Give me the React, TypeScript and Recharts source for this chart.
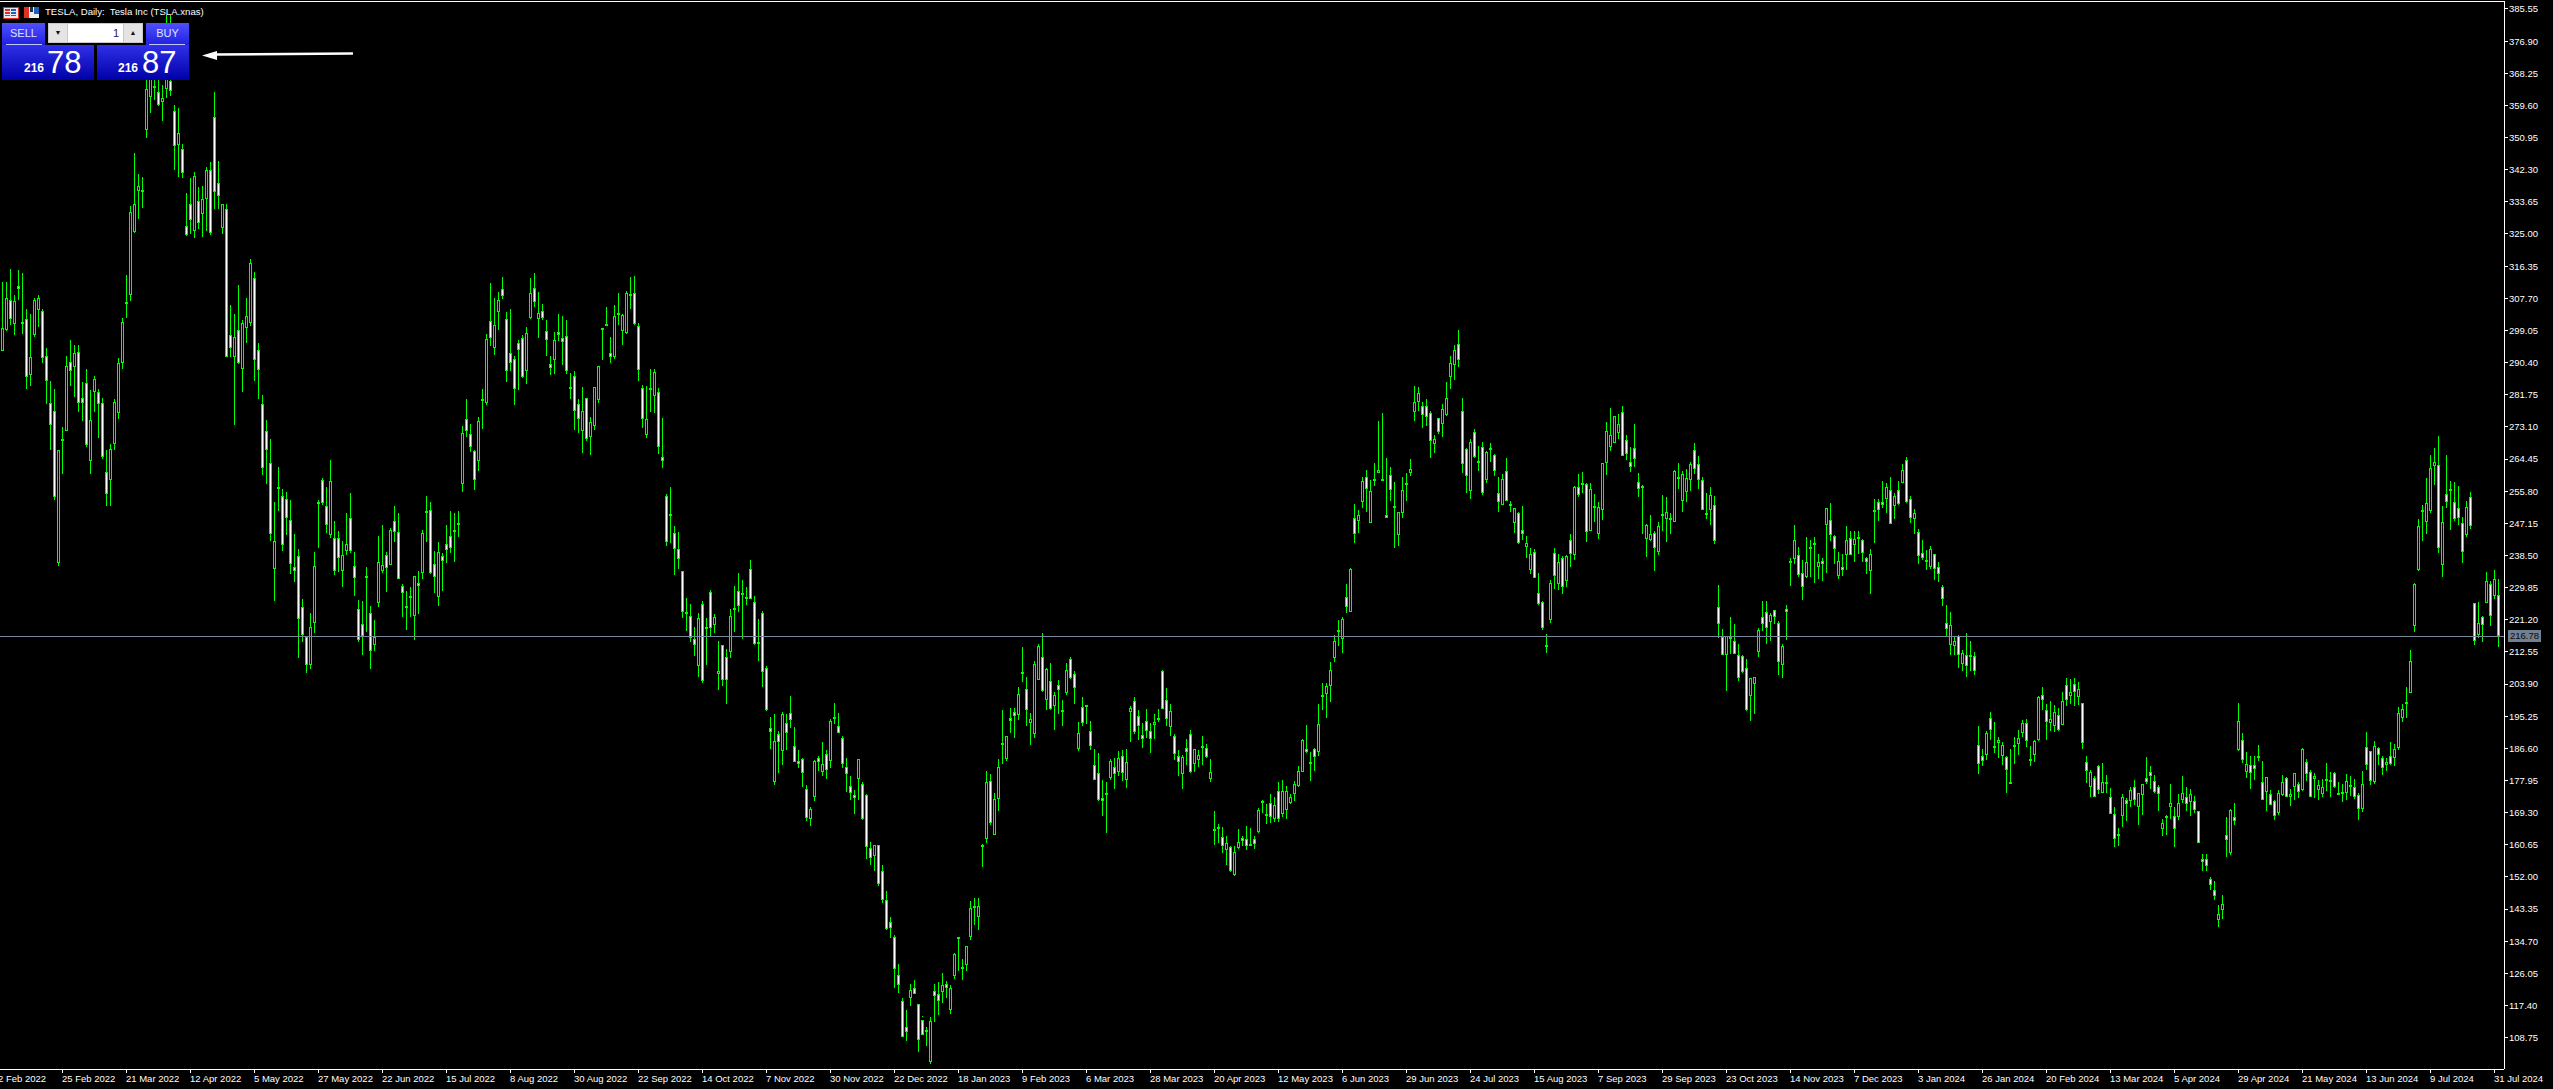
import React from 'react';
import { BarChart, Bar, XAxis, YAxis, ReferenceLine } from 'recharts';

// TESLA daily bars, ten per line
const highs = [
  312.0, 312.0, 315.5, 308.6, 315.2, 314.5, 304.9, 303.5, 307.8, 308.6,
  304.8, 294.2, 285.4, 283.3, 267.0, 273.1, 292.1, 296.4, 295.2, 295.2,
  285.2, 288.6, 283.1, 286.7, 283.3, 280.8, 266.8, 268.6, 280.6, 291.6,
  302.4, 313.9, 332.5, 346.7, 341.1, 340.4, 372.0, 372.0, 374.0, 368.0,
  365.1, 383.9, 383.9, 359.7, 358.9, 349.3, 336.0, 340.0, 341.8, 337.6,
  337.9, 342.9, 344.5, 363.1, 344.7, 333.0, 333.1, 305.9, 303.5, 311.2,
  301.9, 307.8, 318.2, 314.8, 295.6, 281.7, 275.0, 269.8, 253.0, 262.2,
  256.4, 255.6, 253.5, 244.4, 240.2, 226.7, 216.6, 223.0, 239.4, 253.3,
  259.3, 257.0, 264.1, 247.9, 245.0, 242.3, 250.0, 255.3, 239.4, 226.6,
  226.2, 235.4, 225.0, 221.0, 243.6, 246.8, 239.3, 246.0, 251.9, 250.0,
  230.9, 229.0, 230.1, 233.0, 234.3, 245.3, 254.6, 252.8, 239.7, 242.0,
  239.1, 246.6, 250.5, 250.0, 250.5, 273.2, 280.6, 273.9, 266.8, 275.8,
  283.3, 298.2, 311.8, 307.8, 309.4, 313.5, 304.0, 304.9, 292.3, 296.6,
  297.7, 300.1, 313.1, 314.5, 309.4, 306.2, 301.9, 292.3, 298.7, 303.5,
  302.8, 301.9, 287.5, 288.1, 280.6, 283.8, 280.8, 275.8, 283.8, 289.5,
  299.7, 305.4, 297.3, 305.8, 309.0, 303.5, 309.7, 313.3, 313.6, 301.1,
  284.3, 284.1, 288.6, 288.8, 283.5, 275.6, 254.9, 256.8, 246.5, 244.7,
  234.4, 227.1, 225.4, 219.3, 223.1, 226.3, 221.7, 229.2, 222.8, 215.4,
  214.4, 213.4, 224.2, 230.3, 233.7, 232.0, 229.9, 237.2, 227.5, 221.4,
  223.5, 208.8, 195.1, 195.8, 191.2, 196.5, 195.8, 200.7, 192.3, 186.2,
  184.1, 176.7, 170.8, 183.4, 184.4, 188.4, 186.2, 194.5, 198.9, 196.1,
  189.8, 184.1, 179.2, 175.4, 182.4, 177.4, 174.3, 161.5, 160.5, 160.6,
  155.3, 148.2, 141.2, 136.3, 128.5, 119.4, 116.2, 123.2, 124.2, 117.7,
  114.5, 111.7, 114.2, 123.2, 123.6, 126.0, 123.9, 122.9, 131.6, 135.8,
  129.9, 133.5, 145.4, 146.4, 146.4, 160.9, 180.6, 179.6, 174.6, 183.8,
  196.8, 190.0, 197.5, 197.5, 203.0, 213.9, 205.9, 196.1, 210.1, 214.8,
  217.6, 208.3, 209.5, 201.7, 205.0, 199.6, 209.5, 211.2, 207.4, 193.7,
  200.3, 198.2, 194.0, 186.5, 185.3, 178.1, 177.4, 183.8, 184.1, 185.8,
  186.2, 186.5, 197.9, 200.3, 196.8, 193.3, 197.2, 193.3, 195.7, 197.2,
  207.6, 202.7, 198.6, 190.5, 186.2, 184.8, 189.1, 191.6, 186.2, 186.2,
  189.8, 187.7, 183.7, 169.6, 166.1, 165.4, 163.0, 160.2, 160.2, 164.8,
  163.0, 165.6, 165.1, 163.0, 170.5, 172.7, 171.5, 174.3, 173.6, 177.4,
  178.0, 176.5, 174.3, 177.8, 181.9, 189.1, 192.8, 185.5, 186.6, 198.5,
  204.3, 204.3, 209.9, 217.0, 221.2, 222.0, 230.8, 235.1, 252.3, 250.7,
  259.5, 261.5, 258.8, 263.3, 274.7, 276.8, 264.7, 262.3, 258.2, 250.3,
  259.7, 260.8, 264.4, 284.1, 283.9, 279.7, 280.6, 277.4, 270.9, 275.6,
  279.2, 285.2, 292.2, 295.1, 299.2, 280.8, 267.4, 269.8, 272.5, 268.0,
  269.1, 266.6, 268.7, 265.8, 259.5, 260.4, 264.7, 253.2, 250.8, 250.2,
  251.8, 243.8, 240.5, 240.2, 233.7, 226.3, 217.3, 231.9, 240.4, 238.8,
  238.4, 238.6, 244.2, 257.2, 260.4, 260.9, 258.1, 258.0, 255.0, 252.9,
  256.3, 274.5, 278.1, 274.6, 276.5, 278.7, 270.9, 267.8, 273.8, 260.6,
  257.4, 246.9, 249.4, 245.1, 247.4, 254.7, 254.3, 249.9, 261.4, 263.3,
  261.3, 261.7, 263.7, 268.7, 265.3, 259.5, 255.4, 257.0, 254.5, 230.5,
  218.7, 213.0, 222.0, 220.0, 214.6, 211.8, 210.6, 202.8, 205.8, 219.1,
  226.3, 226.3, 223.0, 223.8, 220.9, 214.6, 225.2, 237.9, 246.7, 240.8,
  237.2, 243.5, 242.6, 243.5, 238.8, 237.9, 246.7, 252.7, 243.9, 239.3,
  239.0, 246.5, 245.1, 245.1, 245.1, 242.9, 238.1, 240.2, 253.6, 253.8,
  258.6, 258.1, 259.5, 255.2, 258.6, 263.2, 265.0, 254.5, 250.9, 245.6,
  242.6, 239.9, 241.0, 238.8, 236.6, 230.6, 225.2, 223.3, 216.9, 217.1,
  213.0, 217.7, 215.5, 212.6, 192.7, 186.5, 191.3, 196.4, 193.6, 189.7,
  188.2, 184.6, 186.4, 189.7, 191.6, 194.1, 194.5, 187.3, 188.9, 200.6,
  203.2, 198.5, 199.4, 198.2, 197.4, 201.8, 205.5, 205.2, 205.5, 204.5,
  198.9, 184.5, 180.7, 179.2, 182.2, 182.6, 179.5, 175.9, 170.9, 165.2,
  174.4, 173.2, 176.2, 178.0, 171.1, 175.2, 184.3, 181.9, 179.5, 176.8,
  167.5, 168.6, 176.9, 170.9, 174.3, 179.2, 176.2, 175.6, 173.8, 169.8,
  158.1, 158.1, 152.0, 150.9, 144.5, 147.1, 168.0, 170.4, 171.8, 198.8,
  190.7, 185.7, 184.6, 184.6, 187.6, 183.2, 175.9, 175.4, 172.7, 175.4,
  179.5, 178.9, 175.6, 179.5, 177.6, 186.6, 183.7, 180.7, 180.0, 178.0,
  178.3, 182.7, 180.3, 180.3, 177.4, 176.9, 179.6, 179.2, 178.3, 174.5,
  180.5, 191.0, 185.5, 188.6, 187.0, 184.6, 183.9, 188.3, 187.7, 197.8,
  198.5, 203.2, 213.1, 231.0, 248.4, 252.1, 259.4, 265.6, 267.4, 270.7,
  251.9, 265.6, 258.6, 258.3, 257.1, 248.9, 253.2, 255.6, 225.7, 226.0,
  222.1, 234.1, 231.7, 234.6, 232.1,
];

const lows = [
  293.3, 298.7, 300.3, 297.9, 307.0, 298.2, 283.3, 284.0, 297.3, 300.1,
  290.2, 279.0, 266.8, 253.3, 235.9, 260.5, 271.8, 284.1, 281.2, 277.1,
  274.8, 267.6, 260.5, 277.1, 270.0, 264.3, 251.6, 251.9, 267.0, 275.1,
  288.8, 302.2, 306.9, 325.3, 329.0, 332.0, 350.7, 357.6, 361.1, 359.5,
  355.4, 361.6, 362.1, 342.3, 340.2, 340.2, 324.5, 324.8, 324.0, 326.4,
  324.3, 325.8, 324.8, 331.7, 331.7, 324.8, 291.8, 291.8, 273.7, 289.9,
  282.5, 295.8, 300.3, 285.6, 280.6, 260.3, 257.8, 242.3, 226.4, 250.3,
  239.6, 243.9, 233.5, 231.4, 211.0, 215.2, 206.9, 208.0, 217.6, 240.4,
  251.9, 244.5, 243.1, 233.3, 234.1, 229.9, 238.6, 239.1, 227.6, 215.2,
  211.8, 217.8, 208.1, 212.7, 224.6, 234.0, 228.5, 236.4, 242.3, 232.2,
  222.1, 218.6, 222.1, 215.9, 222.7, 232.2, 242.1, 233.3, 228.3, 224.8,
  229.0, 236.4, 239.3, 236.8, 243.4, 255.4, 270.5, 266.3, 256.0, 261.4,
  272.6, 279.2, 294.8, 292.4, 299.2, 307.7, 285.2, 288.1, 279.0, 283.1,
  286.0, 284.7, 302.2, 305.4, 297.1, 301.9, 292.3, 287.2, 287.5, 296.1,
  289.7, 287.5, 280.4, 272.3, 271.5, 266.0, 269.2, 265.7, 272.1, 279.6,
  291.1, 300.5, 290.2, 291.3, 300.5, 295.2, 298.1, 304.6, 300.5, 285.6,
  272.8, 270.0, 277.0, 277.0, 265.8, 262.1, 240.8, 241.7, 233.2, 234.8,
  221.8, 218.2, 215.1, 211.4, 205.9, 204.1, 209.0, 216.9, 217.6, 202.2,
  203.5, 198.5, 210.9, 217.9, 223.2, 216.2, 225.0, 227.1, 214.4, 210.2,
  203.0, 196.8, 186.5, 176.8, 179.9, 182.3, 186.2, 192.2, 185.5, 181.3,
  176.4, 167.1, 165.8, 172.3, 180.3, 179.2, 178.3, 181.2, 193.3, 190.8,
  181.3, 175.0, 172.8, 169.0, 172.8, 167.2, 156.7, 155.3, 153.5, 149.6,
  145.2, 137.7, 135.6, 122.0, 120.8, 118.4, 107.9, 117.3, 120.7, 104.8,
  118.3, 106.7, 101.5, 112.9, 114.8, 118.0, 119.3, 115.1, 124.6, 126.7,
  124.2, 126.7, 134.9, 139.1, 137.7, 154.6, 161.2, 165.8, 163.3, 169.8,
  182.4, 183.3, 190.8, 189.5, 194.0, 204.5, 192.6, 187.4, 189.4, 205.9,
  201.7, 197.1, 196.8, 191.6, 195.9, 192.6, 201.0, 205.2, 198.5, 185.8,
  192.5, 193.2, 186.2, 179.9, 172.3, 168.3, 163.7, 178.2, 175.7, 179.2,
  177.8, 176.0, 188.1, 190.4, 188.8, 186.7, 189.5, 185.1, 189.0, 193.7,
  197.1, 192.6, 190.1, 183.4, 179.2, 175.7, 182.0, 179.9, 180.2, 181.7,
  182.0, 183.8, 177.4, 160.5, 160.9, 158.4, 155.3, 153.2, 152.0, 159.5,
  160.2, 159.1, 160.2, 159.5, 163.7, 169.3, 166.1, 166.5, 166.9, 166.6,
  168.0, 167.5, 171.5, 172.5, 176.3, 180.4, 185.2, 177.8, 180.3, 184.6,
  197.1, 194.9, 199.1, 209.8, 214.2, 212.4, 222.9, 223.3, 241.7, 244.4,
  251.2, 250.1, 247.3, 257.1, 260.6, 258.8, 248.9, 253.2, 240.4, 241.1,
  248.7, 253.2, 259.8, 274.7, 277.4, 272.6, 273.4, 264.8, 266.1, 271.3,
  270.4, 276.1, 283.4, 285.8, 289.3, 260.7, 255.4, 253.7, 264.7, 261.3,
  254.8, 257.9, 263.5, 259.9, 250.2, 252.1, 253.0, 250.3, 244.6, 241.6,
  242.6, 238.0, 233.5, 232.3, 225.1, 218.5, 212.1, 220.2, 229.5, 229.1,
  228.1, 230.0, 235.3, 237.2, 254.1, 255.2, 242.3, 245.5, 247.4, 243.0,
  248.0, 260.2, 266.6, 268.8, 269.8, 273.6, 264.3, 261.1, 262.2, 254.1,
  244.2, 237.9, 242.3, 234.4, 238.4, 245.1, 242.3, 244.2, 247.4, 256.3,
  250.3, 252.7, 255.9, 260.4, 256.4, 250.5, 248.3, 246.9, 241.7, 216.2,
  212.7, 202.1, 212.1, 211.8, 204.7, 206.9, 196.5, 194.0, 195.8, 211.3,
  218.2, 214.6, 215.5, 220.0, 206.4, 205.4, 215.9, 230.3, 236.3, 232.6,
  226.4, 232.6, 232.6, 231.2, 232.1, 231.7, 233.9, 242.6, 236.1, 231.9,
  233.0, 234.6, 238.7, 236.8, 239.0, 236.6, 233.5, 228.1, 241.7, 247.8,
  251.4, 250.1, 246.8, 248.3, 252.1, 258.1, 252.6, 247.2, 244.2, 236.2,
  237.2, 234.6, 234.8, 231.7, 231.2, 225.0, 216.9, 211.8, 211.8, 208.3,
  207.3, 205.8, 207.5, 206.4, 179.8, 181.9, 183.4, 188.8, 185.3, 184.1,
  181.9, 174.7, 177.0, 182.3, 185.0, 189.5, 187.0, 181.9, 183.0, 188.6,
  197.0, 188.8, 191.3, 191.0, 191.3, 192.9, 198.0, 198.5, 198.0, 198.3,
  186.4, 177.2, 173.4, 173.5, 174.4, 174.7, 174.7, 168.9, 160.1, 160.4,
  165.5, 167.1, 170.7, 171.4, 166.0, 168.8, 177.0, 175.6, 174.7, 169.8,
  163.0, 163.1, 167.5, 160.2, 167.4, 171.9, 169.8, 168.3, 169.3, 161.2,
  153.4, 153.4, 148.5, 145.8, 138.6, 140.7, 157.2, 158.1, 166.0, 185.9,
  182.5, 178.7, 175.8, 178.1, 183.3, 177.1, 169.8, 171.3, 167.4, 168.8,
  173.9, 173.4, 171.1, 172.9, 173.4, 175.0, 177.8, 173.4, 173.2, 172.6,
  173.4, 175.2, 173.5, 175.9, 173.9, 172.0, 172.5, 173.8, 172.8, 167.1,
  169.6, 180.8, 176.5, 176.9, 182.2, 179.5, 180.3, 182.2, 181.7, 186.3,
  193.7, 194.9, 201.4, 217.7, 234.5, 242.3, 244.2, 250.0, 257.5, 239.3,
  232.8, 251.4, 245.4, 247.8, 246.7, 236.6, 243.5, 245.6, 214.5, 216.4,
  215.1, 225.7, 219.6, 226.7, 213.9,
];

const opens = [
  293.6, 299.1, 307.2, 300.9, 311.1, 301.4, 302.1, 287.1, 297.9, 304.5,
  304.4, 292.3, 279.5, 277.3, 236.5, 269.8, 272.1, 290.5, 289.1, 293.2,
  281.0, 284.9, 264.0, 282.4, 282.4, 279.5, 261.0, 258.7, 268.4, 276.9,
  290.3, 306.7, 308.7, 325.6, 336.7, 336.4, 352.9, 362.0, 364.8, 363.3,
  360.5, 364.0, 366.2, 358.1, 349.0, 347.9, 327.1, 333.0, 325.8, 333.8,
  330.3, 334.4, 342.3, 356.4, 338.6, 326.5, 331.7, 297.7, 292.0, 299.2,
  288.6, 299.7, 301.1, 313.1, 293.9, 279.2, 271.9, 263.3, 234.8, 257.0,
  254.5, 253.7, 248.0, 235.3, 238.4, 224.7, 216.6, 209.1, 220.2, 252.9,
  258.7, 251.8, 244.0, 243.2, 243.2, 234.3, 239.6, 248.5, 235.7, 224.2,
  220.1, 233.0, 223.0, 214.5, 225.6, 234.4, 238.6, 236.0, 247.9, 244.7,
  230.2, 225.0, 227.7, 222.3, 231.0, 233.7, 250.4, 250.6, 236.3, 227.2,
  238.4, 241.6, 243.6, 245.3, 247.3, 257.7, 275.1, 271.2, 266.6, 263.8,
  280.6, 279.5, 301.5, 294.2, 304.0, 310.1, 302.1, 293.1, 291.4, 295.6,
  296.9, 288.0, 302.4, 310.6, 302.1, 304.2, 299.0, 290.1, 291.0, 298.7,
  296.9, 297.5, 283.7, 286.9, 279.2, 272.0, 280.8, 270.5, 273.2, 280.4,
  299.7, 300.7, 293.1, 292.0, 303.7, 299.0, 298.3, 308.3, 309.0, 300.2,
  283.5, 271.0, 283.5, 281.4, 282.6, 264.9, 254.4, 249.6, 244.6, 240.1,
  234.2, 223.3, 222.1, 215.9, 208.8, 225.3, 219.2, 228.7, 219.9, 206.6,
  214.4, 211.3, 212.5, 224.4, 228.9, 228.3, 227.3, 234.8, 225.9, 215.1,
  222.9, 208.3, 192.1, 177.4, 190.4, 185.8, 193.5, 196.0, 187.1, 183.1,
  183.8, 175.6, 167.7, 173.4, 184.0, 180.3, 185.0, 183.1, 194.9, 192.6,
  189.3, 181.7, 176.5, 174.1, 178.4, 177.1, 174.1, 159.9, 157.6, 160.6,
  153.5, 145.9, 139.8, 135.8, 125.6, 118.6, 111.6, 119.5, 122.0, 117.7,
  113.4, 110.8, 102.2, 121.3, 120.5, 121.0, 123.3, 116.1, 125.3, 135.8,
  127.2, 128.2, 135.7, 144.2, 141.2, 160.1, 162.2, 177.8, 163.4, 172.9,
  188.1, 183.7, 194.7, 196.3, 195.5, 207.0, 202.6, 193.4, 190.5, 204.9,
  211.3, 199.6, 204.7, 198.0, 203.6, 196.8, 201.4, 210.5, 206.7, 186.5,
  197.8, 198.2, 191.3, 182.0, 180.0, 173.2, 174.1, 178.5, 181.7, 180.3,
  184.5, 178.1, 196.5, 199.3, 195.2, 190.3, 194.0, 191.2, 192.9, 194.8,
  207.3, 199.6, 192.4, 189.9, 184.5, 179.8, 186.7, 190.5, 182.3, 183.4,
  187.1, 186.6, 178.4, 165.0, 165.4, 162.6, 159.1, 160.0, 152.6, 159.9,
  162.4, 162.2, 160.8, 162.3, 164.0, 172.5, 169.0, 171.8, 167.7, 175.1,
  169.0, 170.0, 172.0, 174.3, 176.5, 180.1, 186.3, 182.4, 186.3, 185.7,
  200.9, 201.2, 203.4, 210.8, 218.4, 216.1, 227.3, 223.4, 248.5, 247.9,
  252.8, 259.7, 247.1, 259.2, 260.8, 258.8, 249.5, 260.1, 251.8, 243.9,
  249.8, 258.0, 260.6, 277.1, 279.7, 278.6, 278.8, 276.8, 268.4, 275.4,
  274.0, 276.4, 286.4, 289.7, 295.4, 277.3, 267.1, 255.9, 271.7, 263.8,
  267.6, 258.7, 267.1, 265.5, 255.2, 252.2, 261.2, 252.3, 247.3, 249.9,
  245.4, 240.9, 234.7, 239.5, 228.5, 226.0, 214.4, 221.0, 239.1, 230.9,
  237.9, 231.5, 242.6, 238.6, 257.0, 258.0, 257.7, 245.1, 251.8, 244.4,
  250.7, 263.3, 267.7, 268.7, 271.4, 277.0, 269.5, 263.7, 267.4, 258.2,
  257.1, 242.8, 242.6, 244.5, 239.4, 249.7, 248.2, 248.7, 247.6, 259.7,
  253.1, 255.5, 258.8, 267.0, 263.2, 258.9, 249.8, 250.6, 252.0, 224.6,
  216.6, 211.7, 216.1, 215.4, 211.6, 211.4, 208.1, 200.6, 203.8, 212.4,
  221.9, 223.2, 220.6, 223.8, 220.2, 209.0, 224.0, 236.9, 237.6, 238.7,
  233.9, 232.8, 240.6, 241.9, 235.3, 236.9, 246.7, 248.0, 243.7, 233.1,
  235.3, 238.7, 243.1, 241.2, 243.4, 242.6, 237.8, 234.3, 250.8, 253.0,
  253.0, 253.6, 256.0, 251.8, 256.0, 258.1, 264.2, 253.8, 248.2, 244.7,
  239.1, 237.2, 235.3, 238.8, 235.3, 229.9, 220.3, 214.4, 214.2, 216.7,
  209.2, 211.7, 211.7, 211.4, 187.5, 184.5, 184.7, 194.7, 187.1, 187.9,
  184.6, 184.3, 177.6, 187.4, 187.8, 190.8, 193.4, 183.7, 184.9, 188.9,
  201.0, 196.9, 193.3, 192.6, 195.5, 193.0, 203.6, 200.8, 203.8, 200.3,
  198.8, 182.9, 176.3, 178.5, 181.9, 174.7, 177.6, 173.6, 168.8, 163.5,
  168.5, 172.6, 172.5, 176.3, 170.9, 174.1, 178.5, 180.2, 177.7, 176.1,
  164.8, 168.3, 170.9, 168.5, 168.0, 172.6, 173.4, 172.1, 172.3, 169.7,
  156.9, 156.7, 151.4, 148.6, 140.3, 143.0, 163.4, 158.5, 168.0, 186.1,
  188.8, 180.1, 182.0, 182.0, 184.3, 177.6, 174.8, 174.2, 172.4, 169.3,
  174.1, 178.5, 173.4, 176.3, 177.0, 175.3, 182.9, 180.3, 178.4, 175.3,
  174.2, 178.4, 178.0, 180.0, 174.5, 174.8, 174.7, 176.6, 176.1, 173.9,
  170.3, 186.9, 185.8, 177.5, 186.6, 184.1, 182.1, 184.6, 184.0, 186.8,
  194.7, 199.0, 201.6, 219.4, 234.6, 250.8, 247.4, 250.5, 262.7, 262.8,
  236.0, 254.9, 256.3, 253.0, 251.4, 247.2, 244.1, 254.2, 225.7, 217.2,
  221.8, 225.8, 230.8, 227.5, 227.8,
];

const closes = [
  299.6, 307.7, 302.2, 307.0, 310.1, 301.2, 286.4, 291.8, 307.2, 307.7,
  291.7, 285.4, 273.6, 254.3, 266.8, 269.5, 289.5, 288.0, 293.1, 279.5,
  279.5, 268.1, 275.0, 286.0, 279.2, 264.9, 255.0, 267.1, 279.8, 290.2,
  301.3, 306.1, 330.8, 333.0, 337.9, 336.8, 363.9, 368.0, 364.4, 359.7,
  361.6, 368.0, 363.5, 348.7, 352.1, 341.3, 324.8, 328.7, 340.7, 328.0,
  334.4, 342.3, 325.3, 336.2, 335.1, 333.0, 291.8, 294.3, 297.2, 290.2,
  301.0, 303.0, 317.3, 291.1, 288.3, 262.1, 266.8, 244.2, 242.4, 256.3,
  241.2, 248.7, 236.1, 234.3, 221.4, 217.1, 209.0, 219.2, 235.6, 252.9,
  252.5, 246.6, 258.5, 234.2, 237.7, 238.6, 241.5, 239.7, 232.5, 215.7,
  216.7, 233.0, 212.8, 216.5, 236.6, 235.8, 235.1, 245.3, 244.7, 232.2,
  228.4, 224.4, 227.0, 232.9, 230.4, 244.5, 250.4, 233.9, 232.8, 239.3,
  236.9, 239.9, 240.5, 245.1, 247.0, 271.4, 272.1, 267.8, 258.8, 274.7,
  280.4, 296.7, 296.9, 300.4, 307.2, 308.2, 288.0, 290.4, 283.2, 293.8,
  286.4, 298.3, 309.0, 306.6, 303.7, 302.4, 296.6, 289.0, 296.4, 297.9,
  295.9, 288.0, 283.6, 277.5, 275.2, 277.3, 269.7, 274.3, 283.8, 289.4,
  299.7, 300.7, 291.8, 302.9, 303.7, 303.2, 309.1, 308.9, 300.7, 288.4,
  275.2, 275.3, 283.0, 287.8, 267.6, 263.9, 242.1, 249.3, 240.1, 237.6,
  223.2, 222.7, 216.2, 214.5, 221.6, 204.7, 218.7, 219.0, 222.0, 207.5,
  204.9, 204.9, 222.1, 224.4, 225.0, 228.2, 227.2, 226.8, 214.7, 215.0,
  207.2, 196.9, 191.1, 188.6, 188.3, 195.8, 190.6, 194.1, 183.0, 182.4,
  179.9, 167.8, 170.2, 183.3, 183.0, 182.3, 180.7, 194.0, 194.8, 190.6,
  182.3, 179.6, 174.6, 173.3, 183.8, 167.5, 160.1, 157.0, 160.7, 150.1,
  145.9, 138.0, 138.3, 127.2, 122.9, 108.8, 110.2, 121.5, 120.6, 108.0,
  109.4, 110.5, 113.2, 120.0, 118.5, 122.9, 122.1, 122.2, 131.2, 135.8,
  127.7, 133.3, 143.6, 143.5, 144.2, 160.6, 177.6, 166.4, 172.9, 181.5,
  187.9, 189.9, 194.0, 195.2, 201.1, 207.2, 196.8, 194.4, 209.4, 214.0,
  202.0, 207.9, 197.1, 200.9, 202.2, 196.5, 207.8, 205.6, 202.7, 190.6,
  193.3, 198.2, 187.3, 178.1, 172.6, 172.5, 174.5, 183.1, 179.7, 184.1,
  179.9, 182.9, 197.5, 190.9, 192.5, 189.0, 191.3, 189.2, 193.7, 194.7,
  197.3, 194.5, 196.6, 185.1, 183.0, 184.3, 185.7, 180.2, 186.3, 184.9,
  186.8, 184.2, 180.2, 164.8, 165.4, 160.3, 161.2, 153.7, 158.7, 161.3,
  161.6, 160.2, 160.3, 160.9, 169.9, 171.8, 168.6, 168.0, 171.3, 167.7,
  175.0, 175.0, 173.6, 176.9, 180.5, 188.8, 185.5, 182.9, 184.2, 193.1,
  200.7, 203.3, 207.6, 215.5, 218.4, 221.3, 224.5, 234.9, 244.3, 249.5,
  258.5, 256.5, 255.8, 259.1, 261.6, 259.0, 248.7, 256.0, 251.3, 250.1,
  256.0, 257.4, 261.7, 279.7, 282.2, 276.2, 275.8, 269.4, 269.8, 271.6,
  278.0, 280.8, 290.2, 293.7, 291.1, 263.0, 259.8, 269.0, 265.0, 263.5,
  255.3, 266.3, 267.4, 261.1, 253.0, 259.0, 253.2, 251.9, 251.4, 241.8,
  244.4, 241.9, 238.8, 232.5, 225.4, 219.1, 214.4, 231.0, 233.0, 236.7,
  229.9, 238.3, 238.8, 256.9, 254.7, 258.0, 244.7, 256.3, 251.8, 251.5,
  263.3, 271.9, 270.9, 276.0, 274.0, 265.3, 265.7, 262.4, 264.4, 256.4,
  257.1, 246.7, 244.2, 240.5, 246.3, 249.7, 250.2, 248.4, 261.2, 259.6,
  260.3, 259.3, 263.2, 261.8, 258.8, 250.8, 249.8, 254.7, 242.3, 220.0,
  211.6, 216.9, 216.5, 212.0, 205.5, 207.0, 196.8, 205.4, 205.8, 218.5,
  220.1, 219.1, 222.4, 221.8, 209.7, 214.2, 223.4, 236.9, 242.6, 233.2,
  229.9, 236.6, 240.9, 241.9, 236.6, 236.1, 251.4, 243.9, 240.2, 237.1,
  234.5, 242.6, 238.6, 243.0, 243.3, 239.1, 236.7, 238.8, 250.7, 250.7,
  252.0, 257.0, 247.0, 254.5, 252.3, 261.4, 252.8, 248.5, 249.9, 238.3,
  237.7, 237.2, 240.2, 234.8, 233.6, 226.9, 218.7, 219.7, 215.4, 211.6,
  212.2, 208.7, 211.6, 207.3, 182.5, 183.1, 190.7, 191.4, 186.7, 188.9,
  187.6, 180.7, 177.6, 187.3, 189.3, 193.3, 188.5, 183.6, 188.6, 200.4,
  199.7, 193.7, 194.5, 196.5, 191.6, 199.2, 199.5, 201.8, 201.8, 202.5,
  187.9, 180.4, 180.2, 173.6, 175.3, 177.5, 177.1, 169.0, 162.3, 163.4,
  173.6, 171.5, 175.3, 172.6, 174.7, 176.9, 177.5, 179.2, 174.9, 174.4,
  166.5, 168.3, 171.8, 164.8, 172.0, 174.6, 171.6, 174.4, 170.0, 161.2,
  155.9, 154.9, 149.8, 146.8, 141.9, 144.6, 162.0, 170.0, 167.0, 193.9,
  183.4, 182.3, 179.9, 180.9, 184.4, 172.6, 178.8, 171.4, 168.3, 174.5,
  177.5, 173.6, 174.4, 180.0, 174.9, 186.4, 179.8, 173.5, 179.2, 176.7,
  176.3, 178.2, 178.0, 176.1, 174.5, 174.4, 177.7, 176.6, 173.6, 170.4,
  176.9, 182.1, 177.7, 187.2, 184.7, 181.3, 182.9, 182.4, 186.5, 196.2,
  197.1, 199.0, 210.0, 230.8, 246.4, 250.7, 252.6, 262.0, 263.7, 240.6,
  247.4, 252.9, 256.0, 248.2, 248.5, 239.3, 251.5, 246.3, 215.6, 220.3,
  219.7, 231.6, 222.1, 232.1, 216.78,
];

const dateLabels = [
  '2 Feb 2022', '25 Feb 2022', '21 Mar 2022', '12 Apr 2022', '5 May 2022', '27 May 2022', '22 Jun 2022', '15 Jul 2022',
  '8 Aug 2022', '30 Aug 2022', '22 Sep 2022', '14 Oct 2022', '7 Nov 2022', '30 Nov 2022', '22 Dec 2022', '18 Jan 2023',
  '9 Feb 2023', '6 Mar 2023', '28 Mar 2023', '20 Apr 2023', '12 May 2023', '6 Jun 2023', '29 Jun 2023', '24 Jul 2023',
  '15 Aug 2023', '7 Sep 2023', '29 Sep 2023', '23 Oct 2023', '14 Nov 2023', '7 Dec 2023', '3 Jan 2024', '26 Jan 2024',
  '20 Feb 2024', '13 Mar 2024', '5 Apr 2024', '29 Apr 2024', '21 May 2024', '13 Jun 2024', '9 Jul 2024', '31 Jul 2024',
];

const priceTicks = [
  385.55, 376.9, 368.25, 359.6, 350.95, 342.3, 333.65, 325.0, 316.35, 307.7, 299.05, 290.4, 281.75, 273.1, 264.45, 255.8, 247.15,
  238.5, 229.85, 221.2, 212.55, 203.9, 195.25, 186.6, 177.95, 169.3, 160.65, 152.0, 143.35, 134.7, 126.05, 117.4, 108.75,
];

const lastPrice = 216.78;
const priceTop = 387.7;
const priceBottom = 100.3;
const FONT = '"Liberation Sans", Arial, sans-serif';
const GREEN = '#00ff00';

// one empty slot in front (the cut off first date label) and one behind
const rows: any[] = [{ idx: 0, range: null }];
highs.forEach((h, i) => {
  rows.push({ idx: i + 1, range: [lows[i], h], open: opens[i], close: closes[i] });
});
rows.push({ idx: rows.length, range: null });

const dateTicks = dateLabels.map((_, i) => i * 16);

const Candle = (props: any) => {
  const { x, y, width, height, payload } = props;
  if (!payload || !payload.range) return null;
  const [low, high] = payload.range;
  const cx = Math.floor(x + width / 2);
  const pxPerPrice = height / (high - low);
  const top = Math.round(y + (high - Math.max(payload.open, payload.close)) * pxPerPrice);
  const bottom = Math.round(y + (high - Math.min(payload.open, payload.close)) * pxPerPrice);
  const bodyH = Math.max(bottom - top, 2);
  const innerH = bodyH - 2;
  const down = payload.close < payload.open;
  return (
    <g shapeRendering="crispEdges">
      <rect x={cx} y={Math.round(y)} width={1} height={Math.max(Math.round(height), 1)} fill={GREEN} />
      <rect x={cx - 1} y={top} width={3} height={bodyH} fill={GREEN} />
      {innerH > 0 && <rect x={cx} y={top + 1} width={1} height={innerH} fill={down ? '#ffffff' : '#000000'} />}
    </g>
  );
};

const DateTick = (props: any) => {
  const { x, payload } = props;
  return (
    <text x={x} y={1082} fill="#ffffff" fontSize={9.5} fontFamily={FONT} textAnchor="start">
      {dateLabels[payload.value / 16]}
    </text>
  );
};

const blueTop = 'linear-gradient(#5050ff, #2020e0)';
const blueBottom = 'linear-gradient(#3030e8, #0000a8)';

const abs = (left: number, top: number, width: number, height: number, extra: any = {}) => ({
  position: 'absolute' as const, left, top, width, height, ...extra,
});

const TradePanel = () => (
  <div style={{ fontFamily: FONT, color: '#fff' }}>
    <svg style={abs(0, 0, 400, 70)}>
      <g shapeRendering="crispEdges">
        <rect x={3} y={7} width={15} height={11} fill="#e8e8f0" stroke="#e03020" />
        <rect x={5} y={9} width={5} height={2} fill="#e03020" />
        <rect x={11} y={9} width={5} height={2} fill="#2060c0" />
        <rect x={5} y={12} width={5} height={2} fill="#e03020" />
        <rect x={11} y={12} width={5} height={2} fill="#2060c0" />
        <rect x={5} y={15} width={5} height={1} fill="#e03020" />
        <rect x={11} y={15} width={5} height={1} fill="#2060c0" />
        <rect x={24} y={7} width={15} height={11} fill="#f0f0f0" />
        <rect x={24} y={7} width={5} height={11} fill="#e03020" />
        <rect x={30} y={7} width={3} height={5} fill="#203040" />
        <rect x={34} y={7} width={5} height={7} fill="#2060c0" />
      </g>
      <polygon points="202,55.5 217,51 217,60" fill="#fff" />
      <line x1={216} y1={54.5} x2={353} y2={53.5} stroke="#fff" strokeWidth={2.5} />
    </svg>
    <div style={abs(45, 5, 300, 14, { fontSize: 9.6, lineHeight: '14px', whiteSpace: 'pre' })}>TESLA, Daily:  Tesla Inc (TSLA.xnas)</div>

    <div style={abs(2, 23, 43, 22, { background: blueTop, fontSize: 11, textAlign: 'center', lineHeight: '20px', color: '#dfe2ff' })}>SELL</div>
    <div style={abs(6, 44, 36, 1, { background: '#c0c8ff' })} />
    <div style={abs(2, 45, 92, 35, { background: blueBottom })} />
    <div style={abs(24, 61, 22, 15, { fontSize: 12, fontWeight: 700, lineHeight: '15px' })}>216</div>
    <div style={abs(47, 46, 40, 34, { fontSize: 31, lineHeight: '34px' })}>78</div>

    <div style={abs(48, 23, 95, 20, { background: '#c8c8c8' })} />
    <div style={abs(49, 24, 18, 18, { background: '#e4e4e4', fontSize: 7, color: '#111', textAlign: 'center', lineHeight: '18px' })}>▼</div>
    <div style={abs(68, 24, 55, 18, { background: '#fff', color: '#301060', fontSize: 11, textAlign: 'right', lineHeight: '18px', paddingRight: 4, boxSizing: 'border-box' })}>1</div>
    <div style={abs(124, 24, 18, 18, { background: '#e4e4e4', fontSize: 7, color: '#111', textAlign: 'center', lineHeight: '18px' })}>▲</div>

    <div style={abs(146, 23, 43, 22, { background: blueTop, fontSize: 11, textAlign: 'center', lineHeight: '20px', color: '#dfe2ff' })}>BUY</div>
    <div style={abs(149, 44, 36, 1, { background: '#c0c8ff' })} />
    <div style={abs(97, 45, 92, 35, { background: blueBottom })} />
    <div style={abs(118, 61, 22, 15, { fontSize: 12, fontWeight: 700, lineHeight: '15px' })}>216</div>
    <div style={abs(142, 46, 40, 34, { fontSize: 31, lineHeight: '34px' })}>87</div>
  </div>
);

export default function App() {
  return (
    <div style={abs(0, 0, 2553, 1089, { background: '#000', overflow: 'hidden' })}>
      <div style={abs(-4, 0, 2557, 1089)}>
        <BarChart
          width={2557}
          height={1089}
          data={rows}
          margin={{ top: 1, right: 0, bottom: 0, left: 0 }}
          barCategoryGap={0}
        >
          <XAxis
            dataKey="idx"
            type="category"
            ticks={dateTicks}
            interval={0}
            height={20}
            tick={<DateTick />}
            tickSize={4}
            stroke="#fff"
            axisLine={{ stroke: '#fff', shapeRendering: 'crispEdges' }}
            tickLine={{ stroke: '#fff', shapeRendering: 'crispEdges' }}
          />
          <YAxis
            orientation="right"
            width={49}
            domain={[priceBottom, priceTop]}
            ticks={priceTicks}
            interval={0}
            allowDataOverflow
            tickFormatter={(v: number) => v.toFixed(2)}
            tick={{ fill: '#fff', fontSize: 9.5, fontFamily: FONT }}
            tickSize={4}
            tickMargin={1}
            axisLine={{ stroke: '#fff', shapeRendering: 'crispEdges' }}
            tickLine={{ stroke: '#fff', shapeRendering: 'crispEdges' }}
          />
          <ReferenceLine y={priceTop} stroke="#fff" shapeRendering="crispEdges" />
          <ReferenceLine y={lastPrice} stroke="#778899" shapeRendering="crispEdges" />
          <Bar dataKey="range" barSize={3} shape={<Candle />} isAnimationActive={false} />
        </BarChart>
      </div>
      <TradePanel />
      <div style={abs(2508, 630, 33, 12, { background: '#708090', color: '#060a0c', fontFamily: FONT, fontSize: 9.5, lineHeight: '12px', textAlign: 'center' })}>
        {lastPrice.toFixed(2)}
      </div>
    </div>
  );
}
